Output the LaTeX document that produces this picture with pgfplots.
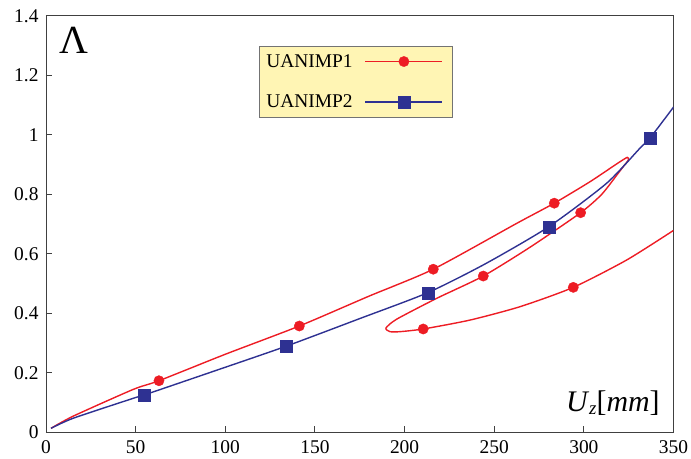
\documentclass[border=0pt]{standalone}
\usepackage{pgfplots}
\pgfplotsset{compat=1.18}
\usepackage{fontspec}
\setmainfont{Liberation Serif}
\newfontfamily\tickfont{Liberation Serif}
\definecolor{cred}{RGB}{237,28,36}
\definecolor{cblue}{RGB}{46,49,146}
\definecolor{legfill}{RGB}{255,245,180}
\begin{document}
\begin{tikzpicture}
\useasboundingbox (-46bp,-26.8bp) rectangle (645bp,432.2bp);
\begin{axis}[
  at={(0,0)}, anchor=south west,
  scale only axis, width=627.5bp, height=416.4bp,
  xmin=0, xmax=350, ymin=0, ymax=1.4,
  xtick={0,50,...,350}, ytick={0,0.2,0.4,0.6,0.8,1,1.2,1.4},
  xticklabel={\mbox{\tickfont\fontsize{19.5}{20}\selectfont\pgfmathprintnumber[assume math mode=true]{\tick}}},
  yticklabel={\mbox{\tickfont\fontsize{19.5}{20}\selectfont\pgfmathprintnumber[assume math mode=true]{\tick}}},
  tick pos=left, tick align=inside,
  major tick length=6bp,
  axis line style={draw=black!75, line width=0.9pt},
  tick style={draw=black!75, line width=0.9pt},
  tick label style={font=\tickfont\fontsize{19.5}{20}\selectfont},
  xticklabel style={yshift=-5bp},
  yticklabel style={xshift=-4bp},
  legend style={at={(0.3394,0.9275)}, anchor=north west, fill=legfill, draw=black!55, line width=0.8pt,
    font=\fontsize{19.5}{23}\selectfont, row sep=22bp, column sep=10bp, inner xsep=5bp, inner ysep=6bp},
  legend plot pos=right,
  legend cell align=left,
  legend image code/.code={\draw[#1, line width=1.4bp, mark indices={2}] plot coordinates {(0bp,0bp) (38.5bp,0bp) (77bp,0bp)}; \path (81bp,0bp);},
]
\addplot[cred, line width=1.4bp, smooth, tension=0.4, mark=*, mark size=5.2bp, mark options={solid, fill=cred, draw=cred, line width=0.3pt},
  mark indices={4,6,8,10,18,20,26,29}] coordinates {
(2.8,0.013) (15.2,0.054) (48.7,0.144) (63.0,0.173) (100,0.262) (141.3,0.357) (180,0.457) (216,0.548)
(262.5,0.702) (283.5,0.770) (303.4,0.842) (318.3,0.902) (324.2,0.924) (324.8,0.915) (322,0.893) (319.2,0.871)
(310,0.80) (298.2,0.738) (270,0.622) (243.9,0.525) (217.9,0.450) (195.6,0.380) (189.6,0.350) (191.9,0.338)
(197.4,0.338) (210.4,0.347) (236.5,0.377) (264.4,0.422) (294.1,0.487) (323.9,0.579) (349.9,0.678)
};
\addlegendentry{UANIMP1}
\addplot[cblue, line width=1.4bp, smooth, tension=0.4, mark=square*, mark size=6bp, mark options={solid, fill=cblue, draw=cblue, line width=0.3pt},
  mark indices={4,6,8,10,13}] coordinates {
(2.8,0.013) (15.2,0.047) (48.7,0.114) (54.7,0.125) (95,0.208) (133.9,0.289) (175,0.382) (212.9,0.469)
(245,0.566) (280.5,0.691) (312.7,0.837) (331.3,0.955) (336.9,0.989) (350,1.093)
};
\addlegendentry{UANIMP2}
\node[anchor=center] at (axis cs:15.6,1.319) {\fontsize{40}{40}\selectfont Λ};
\node[anchor=base east, inner sep=0pt] at (axis cs:342.4,0.069) {\fontsize{30}{30}\selectfont\textit{U}\raisebox{-2.5bp}{\fontsize{19}{19}\selectfont\textit{z}}[\textit{mm}]};
\end{axis}
\end{tikzpicture}
\end{document}
